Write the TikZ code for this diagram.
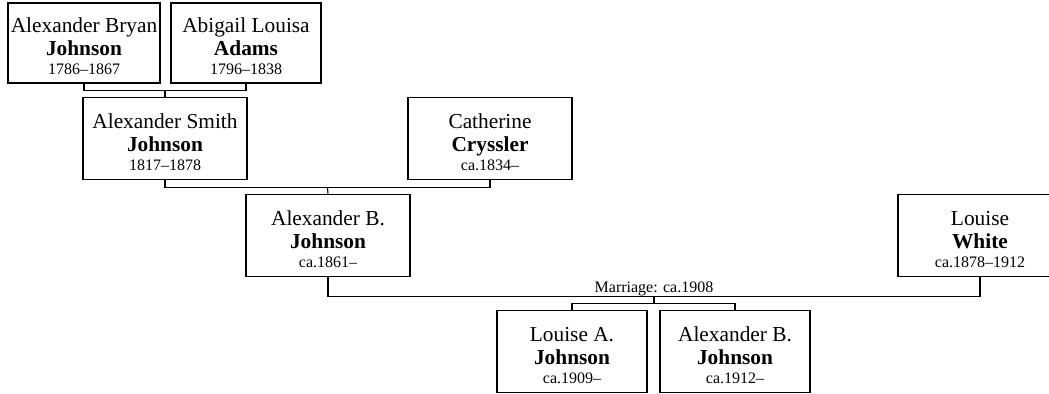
\documentclass[tikz,border=0pt]{standalone}
\usepackage{fontspec}
\setmainfont{Liberation Serif}
\usetikzlibrary{calc, positioning}

\newcommand{\persontext}[3]{\rule{0pt}{16pt}#1\\\textbf{#2}\\[-3pt]{\fontsize{12}{14}\selectfont #3}}

\tikzset{
  personbox/.style={draw, line width=0.8pt, align=center, inner sep=1pt,
    minimum width=123pt, minimum height=61pt,
    font=\fontsize{16}{17.25}\selectfont},
  famline/.style={line width=0.8pt}
}

\begin{document}
\begin{tikzpicture}[x=0.75pt, y=-0.75pt]
    \clip (0,0) rectangle (1049,393);

    % Großeltern
    \node[personbox, minimum width=114pt, minimum height=60pt] (abj) at (84,43)
        {\persontext{Alexander Bryan}{Johnson}{1786--1867}};
    \node[personbox, minimum width=112.5pt, minimum height=60pt] (ala) at (246,43)
        {\persontext{Abigail Louisa}{Adams}{1796--1838}};

    % Eltern
    \node[personbox, minimum height=62pt] (asj) at (165,138.5)
        {\persontext{Alexander Smith}{Johnson}{1817--1878}};
    \node[personbox, minimum height=62pt] (ccr) at (490,138.5)
        {\persontext{Catherine}{Cryssler}{ca.1834--}};

    % Paar
    \node[personbox] (abj2) at (328,235.5)
        {\persontext{Alexander B.}{Johnson}{ca.1861--}};
    \node[personbox] (lwh) at (980,235.5)
        {\persontext{Louise}{White}{ca.1878--1912}};

    % Kinder
    \node[personbox, minimum width=112.5pt] (laj) at (572,351.5)
        {\persontext{Louise A.}{Johnson}{ca.1909--}};
    \node[personbox, minimum width=112.5pt] (abj3) at (735,351.5)
        {\persontext{Alexander B.}{Johnson}{ca.1912--}};

    % Verbindungen
    \coordinate (u1) at ($(abj.south)!0.5!(ala.south)+(0,7)$);
    \draw[famline] (abj.south) |- (u1) -| (ala.south);
    \draw[famline] (u1) -- (asj.north);

    \coordinate (u2) at ($(asj.south)!0.5!(ccr.south)+(0,7)$);
    \draw[famline] (asj.south) |- (u2) -| (ccr.south);
    \draw[famline] (u2) -- (abj2.north);

    \coordinate (u3) at ($(abj2.south)!0.5!(lwh.south)+(0,20)$);
    \draw[famline] (abj2.south) |- (u3) -| (lwh.south);
    \node[above=-3pt of u3, font=\fontsize{12}{14}\selectfont] (mar) {Marriage: ca.1908};

    \coordinate (u4) at ($(u3)+(0,7)$);
    \draw[famline] (u3) -- (u4);
    \draw[famline] (laj.north) |- (u4) -| (abj3.north);
\end{tikzpicture}
\end{document}
